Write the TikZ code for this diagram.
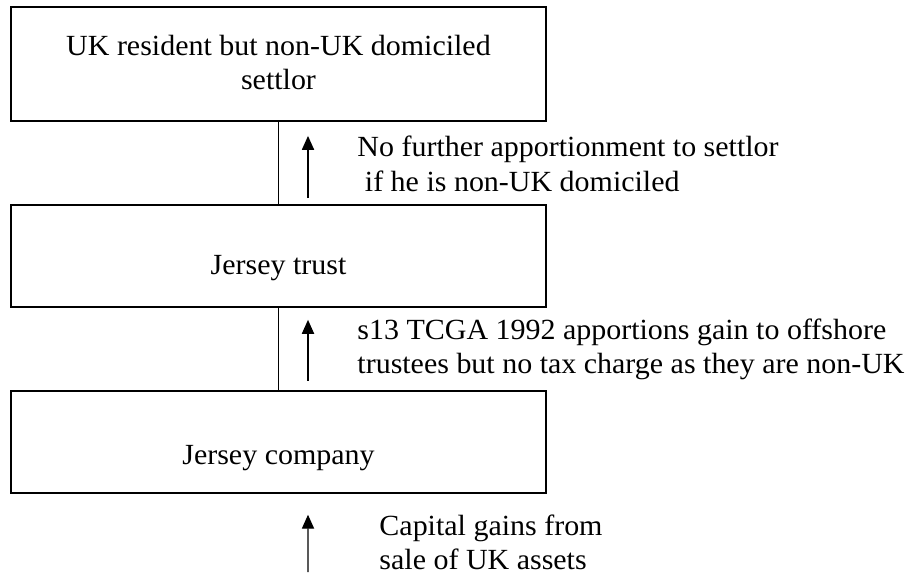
\documentclass[tikz,border=0pt]{standalone}
\usepackage{fontspec}
\setmainfont[FakeStretch=1.025]{Liberation Serif}
\usetikzlibrary{arrows.meta, positioning}
\tikzstyle{box} = [rectangle, draw=black, line width=0.8pt, minimum width=237.9pt,
    minimum height=45.35pt, inner sep=0pt]
\tikzstyle{link} = [line width=0.5pt]
\tikzstyle{arrow} = [line width=0.6pt, -{Triangle[length=6.2pt, width=5.4pt]}]
\tikzstyle{note} = [anchor=north west, inner sep=0pt, align=left]

\begin{document}
\begin{tikzpicture}[x=0.4446pt, y=-0.4446pt, node distance=36.5pt,
    font=\fontsize{13}{15.3}\selectfont]
  \useasboundingbox (0,0) rectangle (911,578);
  \node (settlor) [box, minimum height=50.7pt,
    label={[align=center, anchor=north, yshift=-9.4pt]north:UK resident but non-UK domiciled\\settlor}] at (278.5,64) {};
  \node (trust)   [box, below=of settlor, label={[anchor=base, yshift=-5.6pt]center:Jersey trust}] {};
  \node (company) [box, below=of trust, label={[anchor=base, yshift=-7.3pt]center:Jersey company}] {};
  \coordinate (gain) at (308,572);

  \node (nofurther) [note] at (357,135.6) {No further apportionment to settlor\\\ if he is non-UK domiciled};
  \node (s13)       [note] at (357,318) {s13 TCGA 1992 apportions gain to offshore\\trustees but no tax charge as they are non-UK};
  \node (gains)     [note] at (379,514) {Capital gains from\\sale of UK assets};

  \draw[link] (settlor) -- (trust);
  \draw[link] (trust)   -- (company);
  \draw[arrow] ([shift={(29.5,-6)}]trust.north)   -- ([shift={(29.5,14)}]settlor.south);
  \draw[arrow] ([shift={(29.5,-9)}]company.north) -- ([shift={(29.5,12)}]trust.south);
  \draw[arrow] (gain) -- ([shift={(29.5,21)}]company.south);
\end{tikzpicture}
\end{document}
